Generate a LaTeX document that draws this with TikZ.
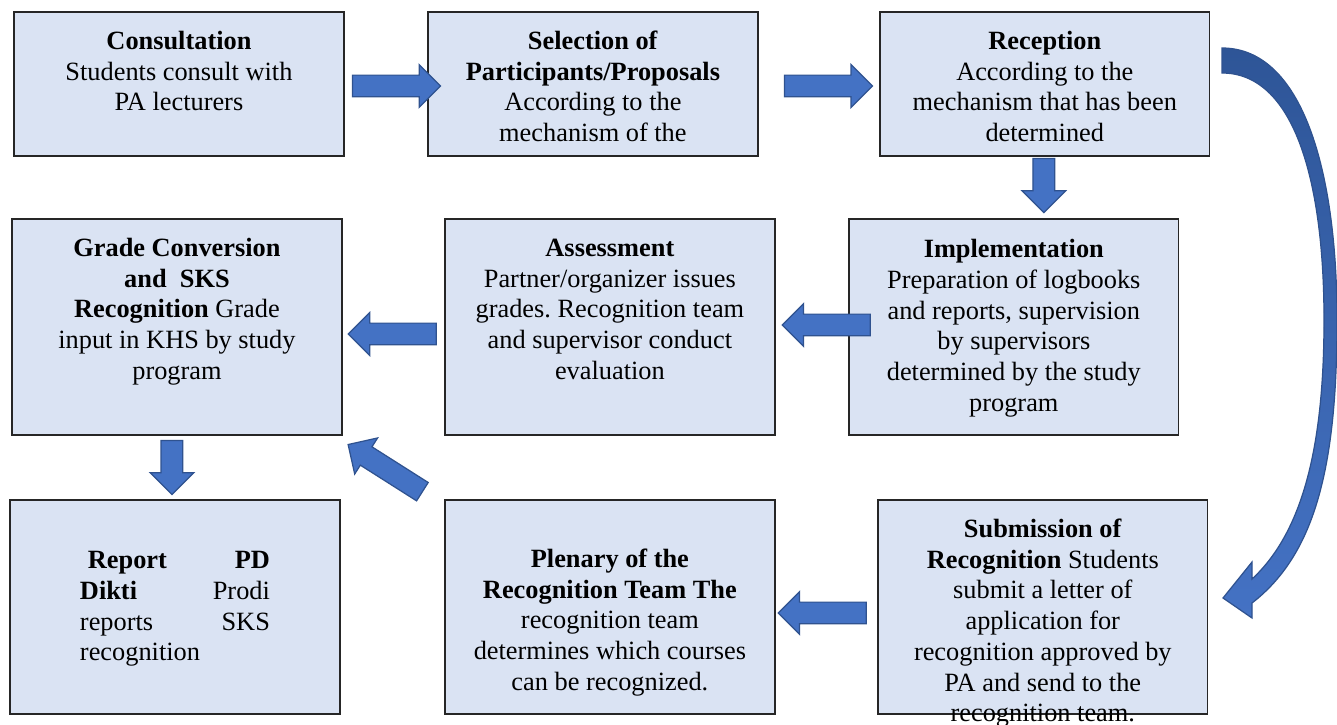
\documentclass[tikz,border=0pt]{standalone}
\usepackage{fontspec}
\setmainfont{Liberation Serif}
\usetikzlibrary{shapes.arrows,positioning,calc}

\definecolor{boxfill}{HTML}{DAE3F3}
\definecolor{arrowfill}{HTML}{4472C4}
\definecolor{arrowline}{HTML}{2F528F}
\definecolor{arrowdeep}{HTML}{2E5597}

\newcommand{\boxtext}[3][21.3pt]{\parbox[c][#2][t]{6.6cm}{\centering\rule{0pt}{#1}#3}}

\begin{document}
\frenchspacing
\begin{tikzpicture}[
    x=0.02cm, y=-0.02cm,
    font={\fontsize{15}{17.5}\selectfont},
    box/.style={draw=black!85, line width=0.8pt, fill=boxfill, inner sep=0pt,
      outer sep=0pt, anchor=north west},
    blockarrow/.style={single arrow, draw=arrowline, fill=arrowfill, line width=0.7pt,
      inner xsep=0pt, inner ysep=0.205cm, minimum height=1.76cm, minimum width=0.83cm,
      single arrow head extend=0.21cm, anchor=tail},
    shortarrow/.style={blockarrow, minimum height=1.08cm, minimum width=0.86cm,
      single arrow head extend=0.22cm}
  ]
    \useasboundingbox (0,0) rectangle (1337,724);
    \node[box] (cons) at (14,12)
      {\boxtext{2.88cm}{\textbf{Consultation}\\Students consult with\\PA lecturers}};
    \node[box, right=1.68cm of cons] (sel)
      {\boxtext{2.88cm}{\textbf{Selection of}\\\textbf{Participants/Proposals}\\According to the\\mechanism of the}};
    \node[box, right=2.44cm of sel] (rec)
      {\boxtext{2.88cm}{\textbf{Reception}\\According to the\\mechanism that has been\\determined}};
    \node[box] (grade) at (12,219)
      {\boxtext{4.32cm}{\textbf{Grade Conversion}\\\textbf{and\ \ SKS}\\\textbf{Recognition} Grade\\input in KHS by study\\program}};
    \node[box, right=2.06cm of grade] (assess)
      {\boxtext{4.32cm}{\textbf{Assessment}\\Partner/organizer issues\\grades. Recognition team\\and supervisor conduct\\evaluation}};
    \node[box, right=1.48cm of assess] (impl)
      {\boxtext[22pt]{4.32cm}{\textbf{Implementation}\\Preparation of logbooks\\and reports, supervision\\by supervisors\\determined by the study\\program}};
    \node[box] (report) at (10,500)
      {\boxtext[39pt]{4.28cm}{\parbox[t]{3.8cm}{\hspace*{4.5pt}\textbf{Report}\hfill\textbf{PD}\\\textbf{Dikti}\hfill Prodi\\reports\hfill SKS\\recognition}}};
    \node[box, right=2.1cm of report] (plen)
      {\boxtext[38.4pt]{4.28cm}{\textbf{Plenary of the}\\\textbf{Recognition Team The}\\recognition team\\determines which courses\\can be recognized.}};
    \node[box, right=2.06cm of plen] (subm)
      {\boxtext{4.28cm}{\textbf{Submission of}\\\textbf{Recognition} Students\\submit a letter of\\application for\\recognition approved by\\PA and send to the\\recognition team.}};

    \node[blockarrow] (a1) at ($(cons.east)+(8,2)$) {};
    \node[blockarrow] (a2) at ($(sel.east)+(26,2)$) {};
    \node[shortarrow, rotate=-90] (a3) at ($(rec.south)+(-1,2)$) {};
    \node[blockarrow, rotate=180] (a4) at ($(impl.west)+(22,-2)$) {};
    \node[blockarrow, rotate=180] (a5) at ($(assess.west)+(-8,7)$) {};
    \node[shortarrow, rotate=-90] (a6) at ($(grade.south)+(-5,5)$) {};
    \node[blockarrow, rotate=147.6] (a7) at ($(plen.north west)+(-22,-8)$) {};
    \node[blockarrow, rotate=180] (a8) at ($(subm.west)+(-11,6)$) {};

    \path[draw=arrowline, line width=0.7pt, top color=arrowdeep, bottom color=arrowfill]
      (1222,48) .. controls (1302,48) and (1337,170) .. (1337,320)
      .. controls (1337,470) and (1314,555) .. (1252,603)
      -- (1252,618) -- (1223,598) -- (1252,562) -- (1252,579)
      .. controls (1305,530) and (1324,440) .. (1324,320)
      .. controls (1324,175) and (1292,73) .. (1222,73) -- cycle;
  \end{tikzpicture}
\end{document}
